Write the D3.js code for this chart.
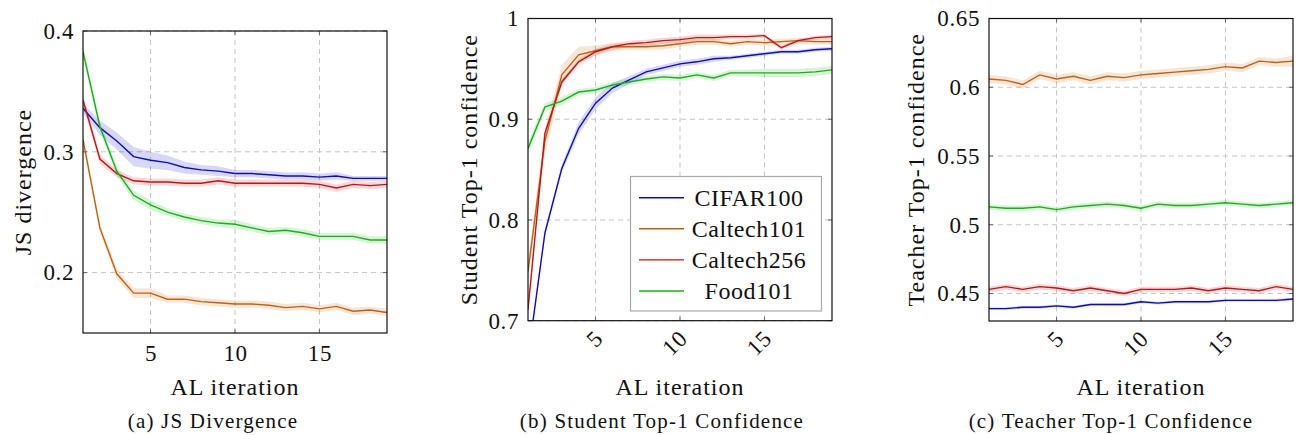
<!DOCTYPE html>
<html>
<head>
<meta charset="utf-8">
<script src="https://cdn.jsdelivr.net/npm/d3@7"></script>
<style>
  body { margin: 0; background: #fff; }
</style>
</head>
<body>
<script>
// AL iterations on the x axis
var iterations = [1,2,3,4,5,6,7,8,9,10,11,12,13,14,15,16,17,18,19]
var xTicks = [5, 10, 15]

var seriesNames = ['CIFAR100', 'Caltech101', 'Caltech256', 'Food101']
var seriesColors = ['#0c0cc8', '#c4620c', '#c81212', '#14b414']

// (a) JS divergence
var jsCifar100   = [0.336,0.320,0.309,0.296,0.293,0.291,0.287,0.285,0.284,0.282,0.282,0.281,0.280,0.280,0.279,0.280,0.278,0.278,0.278]
var jsCaltech101 = [0.310,0.237,0.199,0.183,0.183,0.178,0.178,0.176,0.175,0.174,0.174,0.173,0.171,0.172,0.170,0.172,0.168,0.169,0.167]
var jsCaltech256 = [0.343,0.294,0.282,0.276,0.275,0.275,0.274,0.274,0.276,0.274,0.274,0.274,0.274,0.274,0.273,0.270,0.273,0.272,0.273]
var jsFood101    = [0.383,0.321,0.284,0.264,0.256,0.250,0.246,0.243,0.241,0.240,0.237,0.234,0.235,0.233,0.230,0.230,0.230,0.227,0.227]
var jsCifar100Std   = [0.004,0.006,0.007,0.008,0.007,0.006,0.005,0.004,0.004,0.003,0.003,0.003,0.003,0.003,0.003,0.003,0.002,0.002,0.002]
var jsCaltech101Std = [0.004,0.004,0.004,0.004,0.004,0.003,0.003,0.003,0.003,0.003,0.003,0.003,0.003,0.003,0.003,0.003,0.003,0.003,0.003]
var jsCaltech256Std = [0.004,0.004,0.003,0.003,0.003,0.003,0.003,0.003,0.003,0.003,0.003,0.003,0.003,0.003,0.003,0.003,0.003,0.003,0.003]
var jsFood101Std    = [0.005,0.004,0.004,0.004,0.004,0.003,0.003,0.003,0.003,0.004,0.003,0.003,0.003,0.003,0.003,0.003,0.003,0.003,0.003]
var jsTicks = [0.2, 0.3, 0.4]

// (b) student top-1 confidence
var stCifar100   = [0.663,0.787,0.851,0.891,0.916,0.931,0.939,0.947,0.951,0.955,0.957,0.960,0.961,0.963,0.965,0.967,0.967,0.969,0.970]
var stCaltech101 = [0.749,0.878,0.944,0.964,0.968,0.972,0.972,0.972,0.973,0.975,0.977,0.977,0.975,0.977,0.976,0.977,0.978,0.977,0.977]
var stCaltech256 = [0.711,0.886,0.937,0.957,0.967,0.972,0.975,0.976,0.978,0.979,0.981,0.981,0.982,0.982,0.983,0.971,0.978,0.981,0.982]
var stFood101    = [0.871,0.912,0.918,0.927,0.929,0.934,0.937,0.940,0.942,0.941,0.944,0.941,0.946,0.946,0.946,0.946,0.946,0.947,0.949]
var stCifar100Std   = [0.004,0.004,0.004,0.006,0.006,0.005,0.004,0.003,0.003,0.003,0.003,0.003,0.002,0.002,0.002,0.002,0.002,0.002,0.002]
var stCaltech101Std = [0.010,0.012,0.010,0.008,0.005,0.004,0.003,0.003,0.004,0.003,0.003,0.003,0.003,0.003,0.003,0.003,0.003,0.003,0.003]
var stCaltech256Std = [0.004,0.004,0.003,0.003,0.003,0.003,0.003,0.003,0.003,0.003,0.003,0.003,0.002,0.002,0.002,0.002,0.002,0.002,0.002]
var stFood101Std    = [0.006,0.004,0.004,0.003,0.003,0.003,0.003,0.003,0.003,0.003,0.003,0.003,0.003,0.003,0.004,0.004,0.004,0.004,0.004]
var stTicks = [0.7, 0.8, 0.9, 1]

// (c) teacher top-1 confidence
var tcCifar100   = [0.439,0.439,0.440,0.440,0.441,0.440,0.442,0.442,0.442,0.444,0.443,0.444,0.444,0.444,0.445,0.445,0.445,0.445,0.446]
var tcCaltech101 = [0.606,0.605,0.602,0.609,0.606,0.608,0.605,0.608,0.607,0.609,0.610,0.611,0.612,0.613,0.615,0.614,0.619,0.618,0.619]
var tcCaltech256 = [0.453,0.455,0.453,0.455,0.454,0.452,0.454,0.452,0.450,0.453,0.453,0.453,0.454,0.452,0.454,0.453,0.452,0.455,0.453]
var tcFood101    = [0.513,0.512,0.512,0.513,0.511,0.513,0.514,0.515,0.514,0.512,0.515,0.514,0.514,0.515,0.516,0.515,0.514,0.515,0.516]
var tcCifar100Std   = [0.001,0.001,0.001,0.001,0.001,0.001,0.001,0.001,0.001,0.001,0.001,0.001,0.001,0.001,0.001,0.001,0.001,0.001,0.001]
var tcCaltech101Std = [0.003,0.003,0.003,0.003,0.003,0.003,0.003,0.003,0.003,0.003,0.003,0.003,0.003,0.003,0.003,0.003,0.003,0.003,0.004]
var tcCaltech256Std = [0.002,0.002,0.002,0.002,0.002,0.002,0.002,0.002,0.002,0.002,0.002,0.002,0.002,0.002,0.002,0.002,0.002,0.002,0.002]
var tcFood101Std    = [0.002,0.002,0.002,0.002,0.002,0.002,0.002,0.002,0.002,0.002,0.002,0.002,0.002,0.002,0.002,0.002,0.002,0.002,0.002]
var tcTicks = [0.45, 0.5, 0.55, 0.6, 0.65]

var svg = d3.select("body").append("svg")
	.attr("width", 1299)
	.attr("height", 435)

// serif font for every label (letter spacing widens Times toward the Computer Modern look)
function serif(sel, size, spacing) {
	sel.attr("font-family", "Liberation Serif")
		.style("font-family", "'Liberation Serif'")
		.attr("font-size", size)
		.style("letter-spacing", (spacing || 0) + "px")
		.attr("fill", "#111")
	return sel
}

// one subplot; left/right/top/bottom = plot area in page pixels
function drawPanel(p) {
	var x = d3.scaleLinear().domain([1, 19]).range([p.left, p.right])
	var y = d3.scaleLinear().domain(p.yDomain).range([p.bottom, p.top])
	var g = svg.append("g")

	var clipId = "clip" + p.id
	svg.append("clipPath").attr("id", clipId)
		.append("rect")
		.attr("x", p.left).attr("y", p.top)
		.attr("width", p.right - p.left).attr("height", p.bottom - p.top)

	// dashed grid
	g.selectAll(".gx").data(xTicks).enter().append("line")
		.attr("x1", d => x(d)).attr("x2", d => x(d))
		.attr("y1", p.top).attr("y2", p.bottom)
		.attr("stroke", "#c4c4c4").attr("stroke-dasharray", "5,4")
	g.selectAll(".gy").data(p.yTicks).enter().append("line")
		.attr("x1", p.left).attr("x2", p.right)
		.attr("y1", d => y(d)).attr("y2", d => y(d))
		.attr("stroke", "#c4c4c4").attr("stroke-dasharray", "5,4")

	// inner tick marks on all four sides
	var tl = 4
	xTicks.forEach(function(t) {
		g.append("line").attr("x1", x(t)).attr("x2", x(t)).attr("y1", p.bottom).attr("y2", p.bottom - tl).attr("stroke", "#666")
		g.append("line").attr("x1", x(t)).attr("x2", x(t)).attr("y1", p.top).attr("y2", p.top + tl).attr("stroke", "#666")
	})
	p.yTicks.forEach(function(t) {
		g.append("line").attr("y1", y(t)).attr("y2", y(t)).attr("x1", p.left).attr("x2", p.left + tl).attr("stroke", "#666")
		g.append("line").attr("y1", y(t)).attr("y2", y(t)).attr("x1", p.right).attr("x2", p.right - tl).attr("stroke", "#666")
	})

	var plot = g.append("g").attr("clip-path", "url(#" + clipId + ")")

	// std bands first, then lines
	p.series.forEach(function(s, i) {
		var area = d3.area()
			.x((d, k) => x(iterations[k]))
			.y0((d, k) => y(d - s.std[k]))
			.y1((d, k) => y(d + s.std[k]))
		plot.append("path").datum(s.values)
			.attr("d", area)
			.attr("fill", seriesColors[i])
			.attr("fill-opacity", 0.16)
	})
	p.series.forEach(function(s, i) {
		var line = d3.line().x((d, k) => x(iterations[k])).y(d => y(d))
		plot.append("path").datum(s.values)
			.attr("d", line)
			.attr("fill", "none")
			.attr("stroke", seriesColors[i])
			.attr("stroke-width", 1.4)
	})

	// frame
	g.append("rect")
		.attr("x", p.left).attr("y", p.top)
		.attr("width", p.right - p.left).attr("height", p.bottom - p.top)
		.attr("fill", "none").attr("stroke", "#111").attr("stroke-width", 1.2)

	// y tick labels
	var yAxis = g.append("g")
		.attr("transform", "translate(" + p.left + ",0)")
		.call(d3.axisLeft(y).tickValues(p.yTicks).tickSize(0).tickPadding(9).tickFormat(d => String(d)))
	serif(yAxis, 23)
	yAxis.select(".domain").remove()
	serif(yAxis.selectAll("text"), 23, 0.6)

	// x tick labels
	var xAxis = g.append("g")
		.attr("transform", "translate(0," + p.bottom + ")")
		.call(d3.axisBottom(x).tickValues(xTicks).tickSize(0).tickPadding(12).tickFormat(d => String(d)))
	serif(xAxis, 23)
	xAxis.select(".domain").remove()
	serif(xAxis.selectAll("text"), 23, 0.6)
	if (p.rotate) {
		xAxis.selectAll("text")
			.attr("text-anchor", "end")
			.attr("dy", "0.32em")
			.attr("x", 3)
			.attr("y", 14)
			.attr("transform", "rotate(-45 3 14)")
	}

	// axis titles and caption
	serif(g.append("text"), 24, 1)
		.attr("x", (p.left + p.right) / 2).attr("y", 395)
		.attr("text-anchor", "middle")
		.text("AL iteration")
	serif(g.append("text"), 24, 1)
		.attr("transform", "translate(" + p.ylabelX + "," + (p.top + p.bottom) / 2 + ") rotate(-90)")
		.attr("text-anchor", "middle").attr("dy", "0.35em")
		.text(p.ylabel)
	serif(g.append("text"), 21, 1.2)
		.attr("x", p.captionX).attr("y", 428)
		.attr("text-anchor", "middle")
		.text(p.caption)
}

drawPanel({
	id: "a", left: 83, right: 387, top: 31, bottom: 333,
	yDomain: [0.15, 0.4], yTicks: jsTicks, rotate: false,
	ylabel: "JS divergence", ylabelX: 23, caption: "(a) JS Divergence", captionX: 213,
	series: [
		{values: jsCifar100, std: jsCifar100Std},
		{values: jsCaltech101, std: jsCaltech101Std},
		{values: jsCaltech256, std: jsCaltech256Std},
		{values: jsFood101, std: jsFood101Std}
	]
})

drawPanel({
	id: "b", left: 528, right: 832, top: 18.5, bottom: 320.7,
	yDomain: [0.7, 1], yTicks: stTicks, rotate: true,
	ylabel: "Student Top-1 confidence", ylabelX: 469, caption: "(b) Student Top-1 Confidence", captionX: 662,
	series: [
		{values: stCifar100, std: stCifar100Std},
		{values: stCaltech101, std: stCaltech101Std},
		{values: stCaltech256, std: stCaltech256Std},
		{values: stFood101, std: stFood101Std}
	]
})

drawPanel({
	id: "c", left: 989, right: 1293, top: 18.5, bottom: 321,
	yDomain: [0.43, 0.65], yTicks: tcTicks, rotate: true,
	ylabel: "Teacher Top-1 confidence", ylabelX: 916, caption: "(c) Teacher Top-1 Confidence", captionX: 1111,
	series: [
		{values: tcCifar100, std: tcCifar100Std},
		{values: tcCaltech101, std: tcCaltech101Std},
		{values: tcCaltech256, std: tcCaltech256Std},
		{values: tcFood101, std: tcFood101Std}
	]
})

// legend inside panel (b)
var legend = svg.append("g")
legend.append("rect")
	.attr("x", 630.5).attr("y", 176.5).attr("width", 191).attr("height", 134.5)
	.attr("fill", "#fff").attr("stroke", "#a8a8a8").attr("stroke-width", 1.2)
seriesNames.forEach(function(name, i) {
	var ly = 197.7 + i * 31.1
	legend.append("line")
		.attr("x1", 639).attr("x2", 684).attr("y1", ly).attr("y2", ly)
		.attr("stroke", seriesColors[i]).attr("stroke-width", 1.4)
	serif(legend.append("text"), 24, 0.5)
		.attr("x", 749).attr("y", ly).attr("dy", "0.35em")
		.attr("text-anchor", "middle")
		.text(name)
})
</script>
</body>
</html>
